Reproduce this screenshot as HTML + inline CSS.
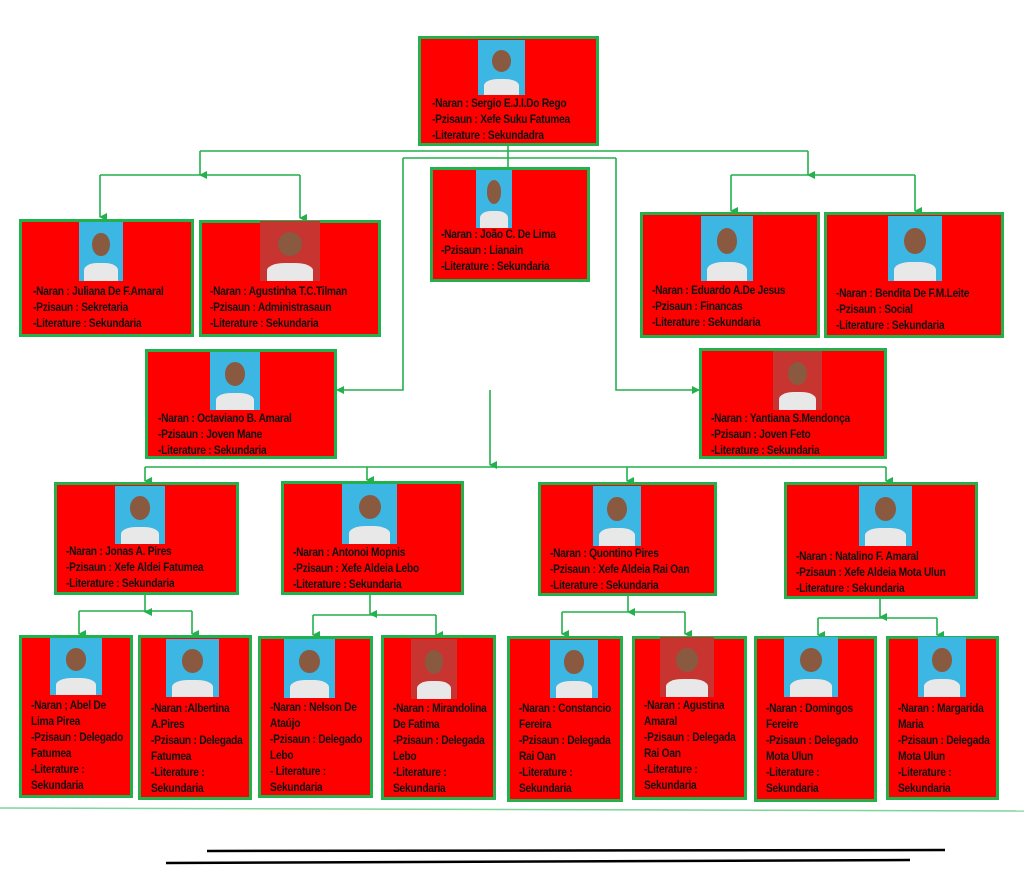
<!DOCTYPE html>
<html><head><meta charset="utf-8"><style>
body{margin:0;width:1024px;height:875px;background:#fff;position:relative;overflow:hidden;font-family:"Liberation Sans",sans-serif;}
.b{position:absolute;background:#ff0000;border:3px solid #22b14c;box-sizing:border-box;}
.p{position:absolute;background:#3cb6e3;}
.p::after{content:"";position:absolute;left:30%;top:18%;width:40%;height:40%;border-radius:50%;background:#8a5a40;}
.p::before{content:"";position:absolute;left:12%;bottom:0;width:76%;height:30%;border-radius:40% 40% 0 0;background:#e8e8e8;}
.r{background:#c8342f;}
.t{position:absolute;font-weight:bold;font-size:12px;line-height:16px;color:#111;white-space:nowrap;letter-spacing:-0.3px;transform:scaleX(0.85);transform-origin:0 0;}
svg{position:absolute;left:0;top:0;}
</style></head><body>
<svg width="1024" height="875">
<defs><marker id="a" markerWidth="8" markerHeight="8" refX="4" refY="7" orient="auto" markerUnits="userSpaceOnUse"><path d="M0,0 L8,0 L4,8z" fill="#22b14c"/></marker>
<marker id="ar" markerWidth="8" markerHeight="8" refX="7" refY="4" orient="auto" markerUnits="userSpaceOnUse"><path d="M0,0 L8,4 L0,8z" fill="#22b14c"/></marker></defs>
<g stroke="#22b14c" stroke-width="1.6" fill="none">
<path d="M508 146 V167"/>
<path d="M200 151 H808"/>
<path d="M200 151 V175" marker-end="url(#a)"/>
<path d="M100 175 H300"/>
<path d="M100 175 V217" marker-end="url(#a)"/>
<path d="M300 175 V218" marker-end="url(#a)"/>
<path d="M808 151 V175" marker-end="url(#a)"/>
<path d="M731 175 H915"/>
<path d="M731 175 V211" marker-end="url(#a)"/>
<path d="M915 175 V211" marker-end="url(#a)"/>
<path d="M403 158 H616"/>
<path d="M403 158 V390 H337" marker-end="url(#ar)"/>
<path d="M616 158 V390 H699" marker-end="url(#ar)"/>
<path d="M490 390 V465" marker-end="url(#a)"/>
<path d="M145 467 H886"/>
<path d="M145 467 V481" marker-end="url(#a)"/>
<path d="M367 467 V480" marker-end="url(#a)"/>
<path d="M627 467 V481" marker-end="url(#a)"/>
<path d="M886 467 V481" marker-end="url(#a)"/>
<path d="M145 595 V612" marker-end="url(#a)"/>
<path d="M79 611 H192"/>
<path d="M79 611 V634" marker-end="url(#a)"/>
<path d="M192 611 V634" marker-end="url(#a)"/>
<path d="M370 595 V614" marker-end="url(#a)"/>
<path d="M313 615 H436"/>
<path d="M313 615 V635" marker-end="url(#a)"/>
<path d="M436 615 V635" marker-end="url(#a)"/>
<path d="M628 596 V612" marker-end="url(#a)"/>
<path d="M562 612 H685"/>
<path d="M562 612 V634" marker-end="url(#a)"/>
<path d="M685 612 V634" marker-end="url(#a)"/>
<path d="M880 599 V617" marker-end="url(#a)"/>
<path d="M818 618 H937"/>
<path d="M818 618 V635" marker-end="url(#a)"/>
<path d="M937 618 V635" marker-end="url(#a)"/>
</g>
<path d="M0 808 L1024 811" stroke="#7fd49a" stroke-width="1.5"/>
<path d="M207 851 L945 850" stroke="#000" stroke-width="2.5"/>
<path d="M166 863 L910 860" stroke="#000" stroke-width="2.5"/>
</svg>

<div class="b" style="left:418px;top:36px;width:181px;height:110px"></div><div class="p" style="left:478px;top:40px;width:47px;height:55px"></div>
<div class="t" style="left:432px;top:95px">-Naran : Sergio E.J.I.Do Rego<br>-Pzisaun : Xefe Suku Fatumea<br>-Literature : Sekundadra</div>

<div class="b" style="left:19px;top:219px;width:175px;height:118px"></div><div class="p" style="left:79px;top:222px;width:44px;height:59px"></div>
<div class="t" style="left:33px;top:283px">-Naran : Juliana De F.Amaral<br>-Pzisaun : Sekretaria<br>-Literature : Sekundaria</div>
<div class="b" style="left:199px;top:220px;width:182px;height:117px"></div><div class="p r" style="left:260px;top:221px;width:60px;height:60px"></div>
<div class="t" style="left:210px;top:283px">-Naran : Agustinha T.C.Tilman<br>-Pzisaun : Administrasaun<br>-Literature : Sekundaria</div>
<div class="b" style="left:430px;top:167px;width:160px;height:115px"></div><div class="p" style="left:476px;top:170px;width:36px;height:58px"></div>
<div class="t" style="left:441px;top:226px">-Naran : João C. De Lima<br>-Pzisaun : Lianain<br>-Literature : Sekundaria</div>
<div class="b" style="left:640px;top:212px;width:180px;height:126px"></div><div class="p" style="left:701px;top:216px;width:52px;height:65px"></div>
<div class="t" style="left:652px;top:282px">-Naran : Eduardo A.De Jesus<br>-Pzisaun : Financas<br>-Literature : Sekundaria</div>
<div class="b" style="left:824px;top:212px;width:180px;height:126px"></div><div class="p" style="left:888px;top:216px;width:54px;height:65px"></div>
<div class="t" style="left:836px;top:285px">-Naran : Bendita De F.M.Leite<br>-Pzisaun : Social<br>-Literature : Sekundaria</div>

<div class="b" style="left:145px;top:349px;width:192px;height:110px"></div><div class="p" style="left:210px;top:352px;width:50px;height:58px"></div>
<div class="t" style="left:158px;top:410px">-Naran : Octaviano B. Amaral<br>-Pzisaun : Joven Mane<br>-Literature : Sekundaria</div>
<div class="b" style="left:699px;top:348px;width:188px;height:111px"></div><div class="p r" style="left:773px;top:351px;width:49px;height:59px"></div>
<div class="t" style="left:711px;top:410px">-Naran : Yantiana S.Mendonça<br>-Pzisaun : Joven Feto<br>-Literature : Sekundaria</div>

<div class="b" style="left:54px;top:482px;width:185px;height:113px"></div><div class="p" style="left:115px;top:486px;width:50px;height:58px"></div>
<div class="t" style="left:66px;top:543px">-Naran : Jonas A. Pires<br>-Pzisaun : Xefe Aldei Fatumea<br>-Literature : Sekundaria</div>
<div class="b" style="left:281px;top:481px;width:183px;height:114px"></div><div class="p" style="left:342px;top:484px;width:55px;height:60px"></div>
<div class="t" style="left:293px;top:544px">-Naran : Antonoi Mopnis<br>-Pzisaun : Xefe Aldeia Lebo<br>-Literature : Sekundaria</div>
<div class="b" style="left:538px;top:482px;width:179px;height:114px"></div><div class="p" style="left:593px;top:486px;width:48px;height:60px"></div>
<div class="t" style="left:550px;top:545px">-Naran : Quontino Pires<br>-Pzisaun : Xefe Aldeia Rai Oan<br>-Literature : Sekundaria</div>
<div class="b" style="left:784px;top:482px;width:194px;height:117px"></div><div class="p" style="left:859px;top:486px;width:53px;height:60px"></div>
<div class="t" style="left:796px;top:548px">-Naran : Natalino F. Amaral<br>-Pzisaun : Xefe Aldeia Mota Ulun<br>-Literature : Sekundaria</div>

<div class="b" style="left:19px;top:635px;width:114px;height:163px"></div><div class="p" style="left:50px;top:638px;width:52px;height:57px"></div>
<div class="t" style="left:31px;top:697px">-Naran ; Abel De<br>Lima Pirea<br>-Pzisaun : Delegado<br>Fatumea<br>-Literature :<br>Sekundaria</div>
<div class="b" style="left:138px;top:635px;width:114px;height:165px"></div><div class="p" style="left:166px;top:639px;width:53px;height:58px"></div>
<div class="t" style="left:151px;top:700px">-Naran :Albertina<br>A.Pires<br>-Pzisaun : Delegada<br>Fatumea<br>-Literature :<br>Sekundaria</div>
<div class="b" style="left:258px;top:636px;width:115px;height:162px"></div><div class="p" style="left:284px;top:639px;width:51px;height:59px"></div>
<div class="t" style="left:270px;top:699px">-Naran : Nelson De<br>Ataújo<br>-Pzisaun : Delegado<br>Lebo<br>- Literature :<br>Sekundaria</div>
<div class="b" style="left:381px;top:635px;width:115px;height:165px"></div><div class="p r" style="left:411px;top:639px;width:46px;height:60px"></div>
<div class="t" style="left:393px;top:700px">-Naran : Mirandolina<br>De Fatima<br>-Pzisaun : Delegada<br>Lebo<br>-Literature :<br>Sekundaria</div>
<div class="b" style="left:507px;top:636px;width:116px;height:166px"></div><div class="p" style="left:550px;top:640px;width:48px;height:58px"></div>
<div class="t" style="left:519px;top:700px">-Naran : Constancio<br>Fereira<br>-Pzisaun : Delegada<br>Rai Oan<br>-Literature :<br>Sekundaria</div>
<div class="b" style="left:632px;top:636px;width:115px;height:164px"></div><div class="p r" style="left:660px;top:637px;width:54px;height:60px"></div>
<div class="t" style="left:644px;top:697px">-Naran : Agustina<br>Amaral<br>-Pzisaun : Delegada<br>Rai Oan<br>-Literature :<br>Sekundaria</div>
<div class="b" style="left:754px;top:636px;width:123px;height:166px"></div><div class="p" style="left:784px;top:637px;width:54px;height:60px"></div>
<div class="t" style="left:766px;top:700px">-Naran : Domingos<br>Fereire<br>-Pzisaun : Delegado<br>Mota Ulun<br>-Literature :<br>Sekundaria</div>
<div class="b" style="left:886px;top:636px;width:113px;height:164px"></div><div class="p" style="left:918px;top:637px;width:48px;height:60px"></div>
<div class="t" style="left:898px;top:700px">-Naran : Margarida<br>Maria<br>-Pzisaun : Delegada<br>Mota Ulun<br>-Literature :<br>Sekundaria</div>
</body></html>
